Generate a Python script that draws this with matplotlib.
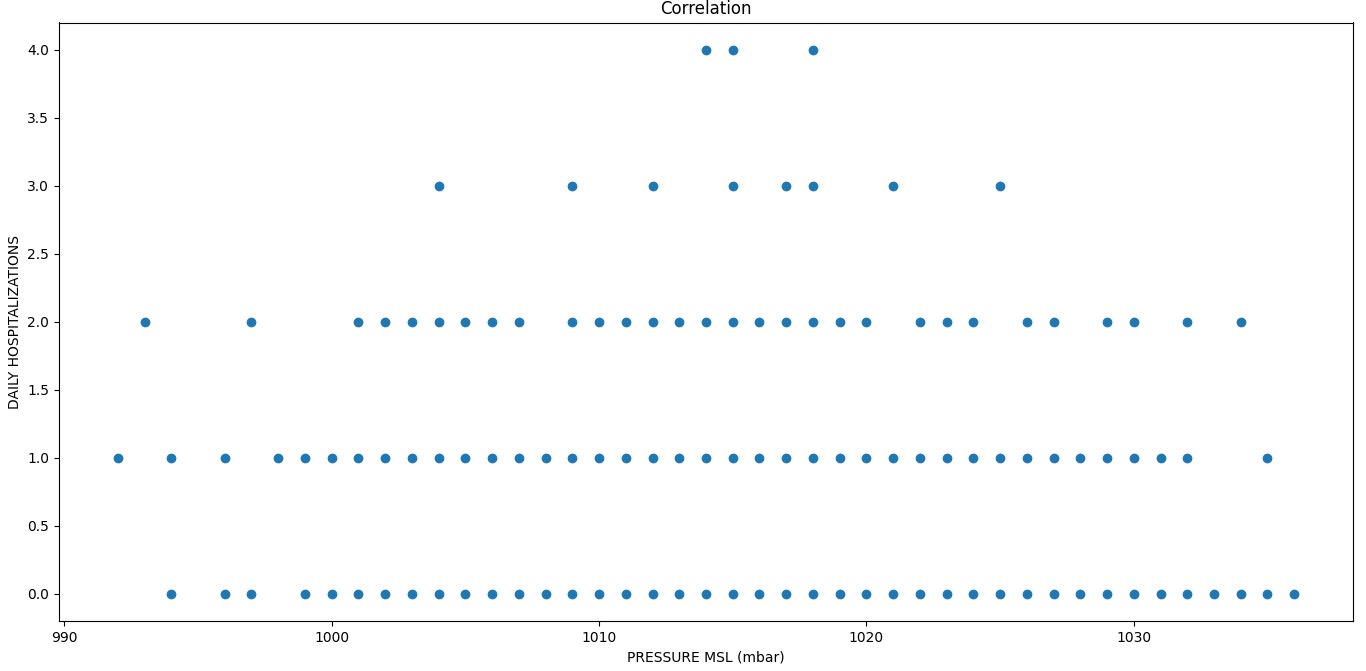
import matplotlib
matplotlib.use("Agg")
import matplotlib.pyplot as plt

# Pressure values (mbar) observed for each daily hospitalization count
pressure_h0 = [994, 996, 997, 999, 1000, 1001, 1002, 1003, 1004, 1005, 1006, 1007,
               1008, 1009, 1010, 1011, 1012, 1013, 1014, 1015, 1016, 1017, 1018,
               1019, 1020, 1021, 1022, 1023, 1024, 1025, 1026, 1027, 1028, 1029,
               1030, 1031, 1032, 1033, 1034, 1035, 1036]
pressure_h1 = [992, 994, 996, 998, 999, 1000, 1001, 1002, 1003, 1004, 1005, 1006,
               1007, 1008, 1009, 1010, 1011, 1012, 1013, 1014, 1015, 1016, 1017,
               1018, 1019, 1020, 1021, 1022, 1023, 1024, 1025, 1026, 1027, 1028,
               1029, 1030, 1031, 1032, 1035]
pressure_h2 = [993, 997, 1001, 1002, 1003, 1004, 1005, 1006, 1007, 1009, 1010, 1011,
               1012, 1013, 1014, 1015, 1016, 1017, 1018, 1019, 1020, 1022, 1023,
               1024, 1026, 1027, 1029, 1030, 1032, 1034]
pressure_h3 = [1004, 1009, 1012, 1015, 1017, 1018, 1021, 1025]
pressure_h4 = [1014, 1015, 1018]

groups = [(0, pressure_h0), (1, pressure_h1), (2, pressure_h2),
          (3, pressure_h3), (4, pressure_h4)]
x = []
y = []
for count, pressures in groups:
    x.extend(pressures)
    y.extend([float(count)] * len(pressures))

fig = plt.figure(figsize=(13.66, 6.71), dpi=100)
ax = fig.add_axes([59 / 1366, 1 - 621 / 671, (1353 - 59) / 1366, (621 - 22.5) / 671])
ax.scatter(x, y, color="#1f77b4")
ax.set_title("Correlation")
ax.set_xlabel("PRESSURE MSL (mbar)")
ax.set_ylabel("DAILY HOSPITALIZATIONS")
fig.savefig("out.png", dpi=100)
